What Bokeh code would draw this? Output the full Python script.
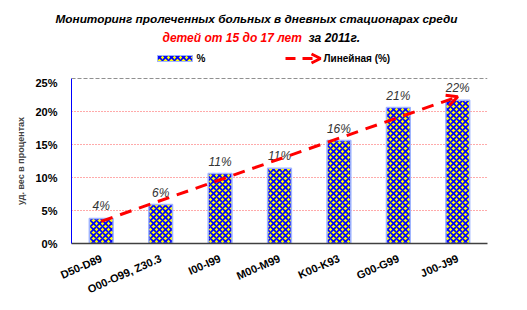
import numpy as np
from bokeh.plotting import figure
from bokeh.layouts import column
from bokeh.models import (Range1d, FixedTicker, Span, Label, LabelSet, ColumnDataSource,
                          Arrow, OpenHead, BoxAnnotation)
from bokeh.core.properties import value
from bokeh.embed import file_html
from bokeh.resources import INLINE

# ---- data ----
categories = ["D50-D89", "O00-O99, Z30.3", "I00-I99", "M00-M99", "K00-K93", "G00-G99", "J00-J99"]
shares = [3.8, 5.9, 10.6, 11.4, 15.6, 20.6, 21.7]
y_ticks = [0, 5, 10, 15, 20, 25]
y_tick_labels = ["0%", "5%", "10%", "15%", "20%", "25%"]
title_line1 = "Мониторинг пролеченных  больных в дневных стационарах среди"
title_red = "детей от 15 до 17 лет"
title_black = "за 2011г."
legend_bar = "%"
legend_trend = "Линейная (%)"
y_label = "уд. вес в процентах"

FONT = "Liberation Sans"
W, H = 527, 310
HEAD_H = 76
LEFT, RIGHT = 71, 40

xs = list(range(1, len(categories) + 1))
labels = [f"{v:.0f}%" for v in shares]

hatch = dict(fill_color="#ffff00", hatch_pattern="diagonal_cross", hatch_color="#0000ff",
             hatch_scale=6, hatch_weight=1.6)

# ---- header (title + legend), coordinates = page pixels ----
head = figure(width=W, height=HEAD_H, output_backend="svg", toolbar_location=None,
              x_range=Range1d(0, W), y_range=Range1d(HEAD_H, 0),
              x_axis_type=None, y_axis_type=None, min_border=0)
head.outline_line_color = None
head.frame_align = False

def txt(x, y, t, color="black", style="bold italic", size="12px", align="left"):
    head.add_layout(Label(x=x, y=y, text=t, text_align=align, text_baseline="middle",
                          text_font=FONT, text_font_style=style, text_font_size=size,
                          text_color=color))

txt(55, 18, title_line1, size="11.8px")
txt(162, 37, title_red, color="#ff0000")
txt(308, 37, title_black)

head.add_layout(BoxAnnotation(left=157, right=192, top=55, bottom=61, fill_alpha=1,
                              line_color="#9fb4ff", line_width=1, line_alpha=1, **hatch))
txt(196, 58, legend_bar, style="bold", size="10px")
head.add_layout(Arrow(x_start=285, y_start=58, x_end=320, y_end=58,
                      line_color="#ff0000", line_width=3, line_dash="10 7",
                      end=OpenHead(line_color="#ff0000", line_width=3, size=9)))
txt(323, 58, legend_trend, style="bold", size="10px")

# ---- chart ----
p = figure(width=W, height=H - HEAD_H, output_backend="svg", toolbar_location=None,
           x_range=Range1d(0.5, len(categories) + 0.5), y_range=Range1d(0, 25),
           min_border_left=LEFT, min_border_right=RIGHT, min_border_top=2, min_border_bottom=67)
p.outline_line_color = None
p.frame_align = False

src = ColumnDataSource(dict(x=xs, top=shares, lbl=labels))
p.vbar(x="x", top="top", width=0.4, source=src,
       line_color="#9fb4ff", line_width=1.5, **hatch)

p.add_layout(LabelSet(x="x", y="top", text="lbl", source=src, y_offset=5,
                      text_align="center", text_baseline="bottom",
                      text_font=value(FONT), text_font_style="italic",
                      text_font_size="12px", text_color="#333333"))

# linear trend
k, b = np.polyfit(xs, shares, 1)
x0, x1 = xs[0], xs[-1]
p.add_layout(Arrow(x_start=x0, y_start=k * x0 + b, x_end=x1, y_end=k * x1 + b,
                   line_color="#ff0000", line_width=3, line_dash="12 8",
                   end=OpenHead(line_color="#ff0000", line_width=3, size=11)))

# axes
p.xaxis.ticker = FixedTicker(ticks=xs)
p.xaxis.major_label_overrides = {x: c for x, c in zip(xs, categories)}
p.xaxis.major_label_orientation = 0.42
p.xaxis.major_tick_line_color = None
p.xaxis.minor_tick_line_color = None
p.xaxis.axis_line_color = "#404040"
p.xaxis.axis_line_width = 1.5
p.xaxis.major_label_standoff = 8
p.xaxis.major_label_text_font = FONT
p.xaxis.major_label_text_font_style = "bold"
p.xaxis.major_label_text_font_size = "11px"
p.xaxis.major_label_text_color = "black"

p.yaxis.ticker = FixedTicker(ticks=y_ticks)
p.yaxis.major_label_overrides = {t: l for t, l in zip(y_ticks, y_tick_labels)}
p.yaxis.major_tick_line_color = None
p.yaxis.minor_tick_line_color = None
p.yaxis.axis_line_color = "#0000ff"
p.yaxis.major_label_standoff = 8
p.yaxis.major_label_text_font = FONT
p.yaxis.major_label_text_font_style = "bold"
p.yaxis.major_label_text_font_size = "11px"
p.yaxis.major_label_text_color = "black"
p.yaxis.axis_label = y_label
p.yaxis.axis_label_text_font = FONT
p.yaxis.axis_label_text_font_style = "bold"
p.yaxis.axis_label_text_font_size = "9px"
p.yaxis.axis_label_standoff = 6

p.xgrid.visible = False
p.ygrid.grid_line_color = "#ff5555"
p.ygrid.grid_line_dash = "1 2"
p.ygrid.grid_line_width = 1
p.add_layout(Span(location=25, dimension="width", line_color="#222222",
                  line_dash="4 2", line_width=1))

layout = column(head, p, spacing=0)
open("out.html", "w").write(file_html(layout, INLINE))
